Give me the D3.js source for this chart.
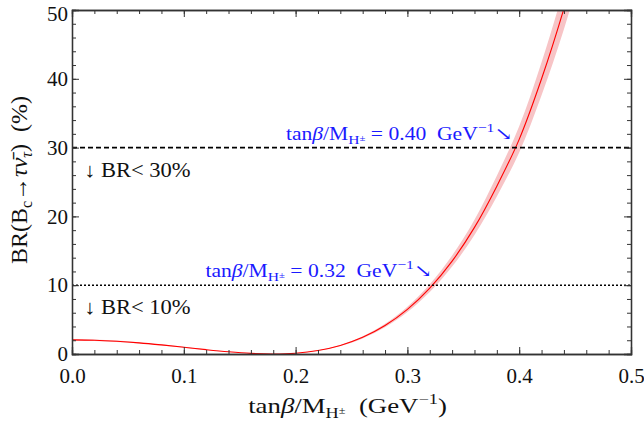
<!DOCTYPE html>
<html>
<head>
<meta charset="utf-8">
<script src="https://cdn.jsdelivr.net/npm/d3@7"></script>
<style>
  body { margin: 0; background: #fff; }
  svg { font-family: "Liberation Serif", "DejaVu Serif", serif; }
  svg text { white-space: pre; }
  .axis path, .axis line { stroke: #333; }
  .axis text { font-family: "Liberation Serif", serif; font-size: 21px; fill: #111; }
</style>
</head>
<body>
<div id="chart"></div>
<script>
// values
var xValues  = [0, 0.02, 0.04, 0.06, 0.08, 0.10, 0.12, 0.14, 0.16, 0.18, 0.20, 0.22, 0.24, 0.26, 0.28, 0.30, 0.32, 0.34, 0.36, 0.38, 0.40, 0.42, 0.44, 0.46];
var brCentral = [2.05, 2.00, 1.85, 1.62, 1.32, 0.98, 0.63, 0.32, 0.09, 0.00, 0.11, 0.50, 1.24, 2.42, 4.13, 6.48, 9.57, 13.5, 18.4, 24.4, 31.2, 40.0, 50.2, 62.0];
var brLow     = [1.93, 1.88, 1.74, 1.52, 1.24, 0.92, 0.59, 0.30, 0.08, 0.00, 0.10, 0.47, 1.17, 2.27, 3.88, 6.09, 9.00, 12.7, 17.3, 22.9, 29.3, 37.6, 47.2, 58.3];
var brHigh    = [2.17, 2.12, 1.96, 1.72, 1.40, 1.04, 0.67, 0.34, 0.10, 0.00, 0.12, 0.53, 1.31, 2.57, 4.38, 6.87, 10.14, 14.3, 19.5, 25.9, 33.1, 42.4, 53.2, 65.7];

var xTicks = [0, 0.1, 0.2, 0.3, 0.4, 0.5];
var yTicks = [0, 10, 20, 30, 40, 50];
var limits = [30, 10];

var margin = {top: 10, right: 13, bottom: 79, left: 72},
    width = 644 - margin.left - margin.right,
    height = 433 - margin.top - margin.bottom;

var x = d3.scaleLinear().domain([0, 0.5]).range([0, width]);
var y = d3.scaleLinear().domain([0, 50]).range([height, 0]);

var svg = d3.select("#chart").append("svg")
    .attr("width", 644)
    .attr("height", 433)
    .append("g")
    .attr("transform", "translate(" + margin.left + "," + margin.top + ")");

svg.append("clipPath").attr("id", "clip")
    .append("rect").attr("width", width).attr("height", height);

var rows = xValues.map(function (d, i) {
    return {x: d, y: brCentral[i], lo: brLow[i], hi: brHigh[i]};
});

// band
var band = d3.area()
    .x(function (d) { return x(d.x); })
    .y0(function (d) { return y(d.lo); })
    .y1(function (d) { return y(d.hi); })
    .curve(d3.curveCatmullRom);

svg.append("path")
    .datum(rows)
    .attr("clip-path", "url(#clip)")
    .attr("fill", "#f7c4c6")
    .attr("d", band);

var line = d3.line()
    .x(function (d) { return x(d.x); })
    .y(function (d) { return y(d.y); })
    .curve(d3.curveCatmullRom);

svg.append("path")
    .datum(rows)
    .attr("clip-path", "url(#clip)")
    .attr("fill", "none")
    .attr("stroke", "#ff0000")
    .attr("stroke-width", 1.1)
    .attr("d", line);

// limit lines
svg.append("line")
    .attr("x1", 0).attr("x2", width)
    .attr("y1", y(limits[0])).attr("y2", y(limits[0]))
    .attr("stroke", "#000").attr("stroke-width", 1.6)
    .attr("stroke-dasharray", "5,3");

svg.append("line")
    .attr("x1", 0).attr("x2", width)
    .attr("y1", y(limits[1])).attr("y2", y(limits[1]))
    .attr("stroke", "#000").attr("stroke-width", 1.6)
    .attr("stroke-dasharray", "2,2");

// axes - ticks point inward on all four sides
var xMinor = d3.range(0, 0.5001, 0.02);
var yMinor = d3.range(0, 50.001, 2);

function addAxis(axis, tr) {
    var g = svg.append("g").attr("class", "axis");
    if (tr) g.attr("transform", tr);
    g.call(axis);
    return g;
}

addAxis(d3.axisBottom(x).tickValues(xMinor).tickSize(-4).tickFormat(""), "translate(0," + height + ")");
var gx = addAxis(d3.axisBottom(x).tickValues(xTicks).tickSize(-7).tickPadding(14).tickFormat(d3.format(".1f")), "translate(0," + height + ")");
addAxis(d3.axisTop(x).tickValues(xMinor).tickSize(-4).tickFormat(""));
addAxis(d3.axisTop(x).tickValues(xTicks).tickSize(-7).tickFormat(""));

addAxis(d3.axisLeft(y).tickValues(yMinor).tickSize(-4).tickFormat(""));
var gy = addAxis(d3.axisLeft(y).tickValues(yTicks).tickSize(-7).tickPadding(4));
addAxis(d3.axisRight(y).tickValues(yMinor).tickSize(-4).tickFormat(""), "translate(" + width + ",0)");
addAxis(d3.axisRight(y).tickValues(yTicks).tickSize(-7).tickFormat(""), "translate(" + width + ",0)");

// top label sits against the page edge, nudge it down a touch
gy.selectAll("text").attr("dy", function (d) { return d === 50 ? "0.5em" : "0.32em"; });
svg.selectAll(".axis path.domain").attr("stroke-width", 1.3);

// the figure's lettering is a little wider than the font, so stretch it sideways
function place(px, py, sx) {
    return "translate(" + px + "," + py + ") scale(" + sx + ",1)";
}

// x axis title
var xt = svg.append("text")
    .attr("transform", place(width / 2 - 4, height + 59, 1.22))
    .attr("text-anchor", "middle")
    .style("font-size", "22px")
    .attr("fill", "#111");
xt.append("tspan").text("tan");
xt.append("tspan").style("font-style", "italic").text("β");
xt.append("tspan").text("/M");
xt.append("tspan").attr("dy", 5).style("font-size", "15px").text("H");
xt.append("tspan").attr("dy", -4).style("font-size", "10px").text("±");
xt.append("tspan").attr("dy", -1).text("  (GeV");
xt.append("tspan").attr("dy", -9).style("font-size", "15px").text("−1");
xt.append("tspan").attr("dy", 9).text(")");

// y axis title
var yt = svg.append("text")
    .attr("transform", "translate(-45," + (height / 2 - 2) + ") rotate(-90)")
    .attr("text-anchor", "middle")
    .style("font-size", "24px")
    .attr("fill", "#111");
yt.append("tspan").text("BR(B");
yt.append("tspan").attr("dy", 5).style("font-size", "16px").text("c");
yt.append("tspan").attr("dy", -5).text("→");
yt.append("tspan").style("font-style", "italic").text("τ");
yt.append("tspan").style("font-style", "italic").text("ν̄");
yt.append("tspan").attr("dy", 5).style("font-size", "16px").style("font-style", "italic").text("τ");
yt.append("tspan").attr("dy", -5).text(")  (%)");

// limit labels
svg.append("text")
    .attr("transform", place(12, y(limits[0]) + 29, 1.1))
    .style("font-size", "20.5px").attr("fill", "#111")
    .text("↓ BR< 30%");
svg.append("text")
    .attr("transform", place(12, y(limits[1]) + 29, 1.1))
    .style("font-size", "20.5px").attr("fill", "#111")
    .text("↓ BR< 10%");

// blue annotations
function note(xEnd, yBase, val) {
    var t = svg.append("text")
        .attr("transform", place(xEnd, yBase, 1.2))
        .attr("text-anchor", "end")
        .style("font-size", "18px")
        .attr("fill", "#1a1aff");
    t.append("tspan").text("tan");
    t.append("tspan").style("font-style", "italic").text("β");
    t.append("tspan").text("/M");
    t.append("tspan").attr("dy", 4).style("font-size", "13px").text("H");
    t.append("tspan").attr("dy", -3).style("font-size", "9px").text("±");
    t.append("tspan").attr("dy", -1).text(" = " + val + "  GeV");
    t.append("tspan").attr("dy", -8).style("font-size", "13px").text("−1");
    t.append("tspan").attr("dy", 8).text("↘");
}
note(x(0.394), y(limits[0]) - 8, "0.40");
note(x(0.322), y(limits[1]) - 8, "0.32");
</script>
</body>
</html>
